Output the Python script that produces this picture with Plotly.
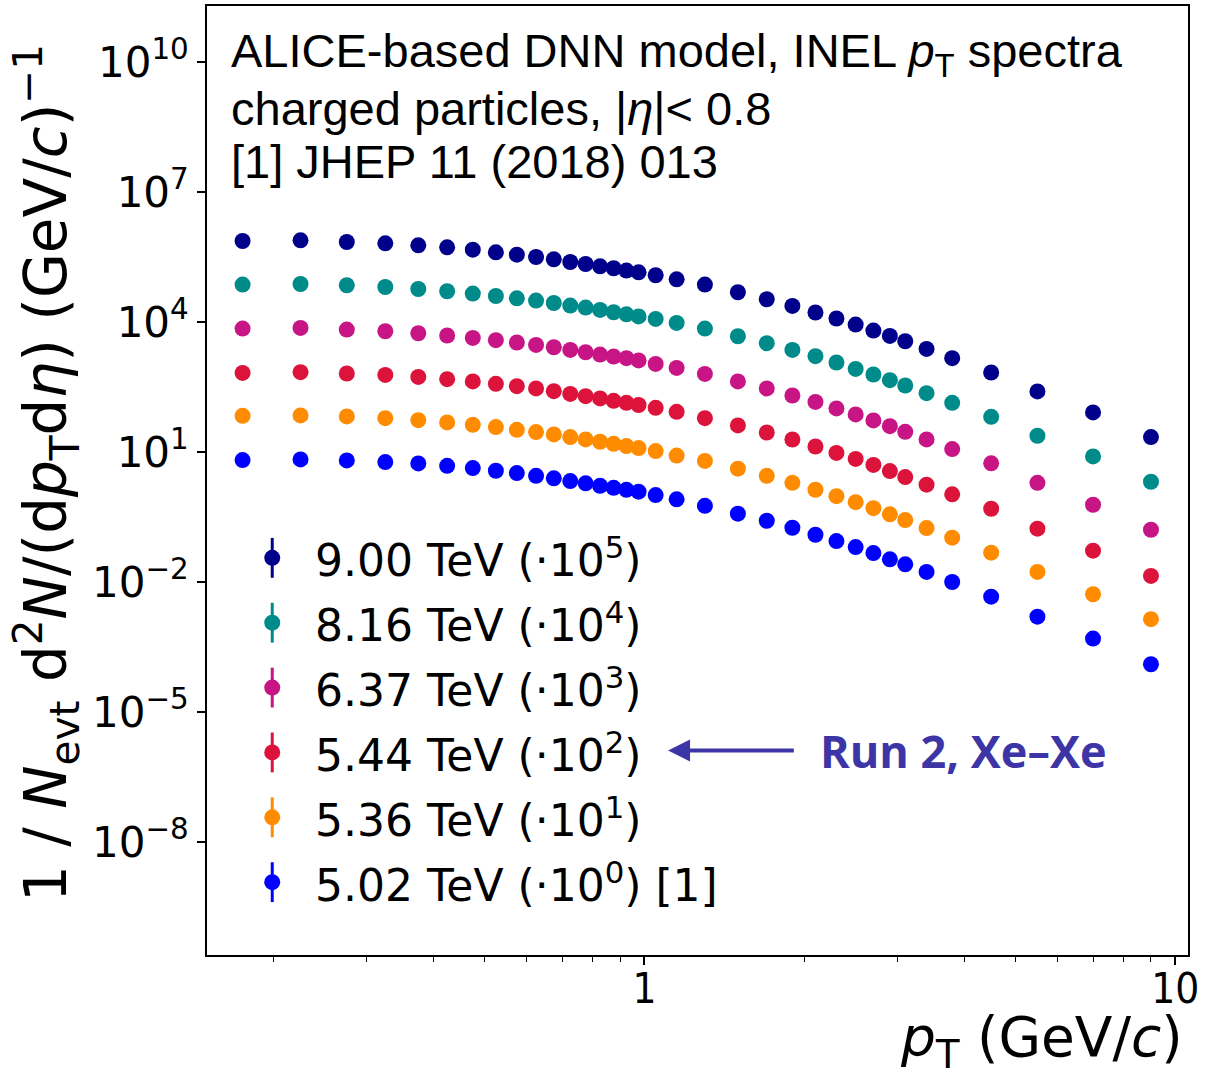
import plotly.graph_objects as go

# ---------------- data ----------------
pt = [0.175, 0.225, 0.275, 0.325, 0.375, 0.425, 0.475, 0.525, 0.575, 0.625,
      0.675, 0.725, 0.775, 0.825, 0.875, 0.925, 0.975, 1.05, 1.15, 1.3,
      1.5, 1.7, 1.9, 2.1, 2.3, 2.5, 2.7, 2.9, 3.1, 3.4,
      3.8, 4.5, 5.5, 7.0, 9.0]

spec_900 = [7.40, 7.67, 7.01, 6.54, 5.89, 5.30, 4.68, 4.06, 3.59, 3.16,
            2.80, 2.43, 2.18, 1.93, 1.74, 1.54, 1.40, 1.20, 0.968, 0.731,
            0.487, 0.335, 0.235, 0.166, 0.1205, 0.0875, 0.0637, 0.0479, 0.0361, 0.0240,
            0.01466, 0.00685, 0.00251, 0.000822, 0.000222]
spec_816 = [7.31, 7.55, 7.05, 6.44, 5.79, 5.13, 4.54, 3.99, 3.53, 3.13,
            2.75, 2.40, 2.16, 1.90, 1.68, 1.51, 1.35, 1.18, 0.953, 0.708,
            0.471, 0.325, 0.228, 0.163, 0.1167, 0.0830, 0.0617, 0.0456, 0.0344, 0.0229,
            0.01368, 0.00650, 0.00238, 0.000796, 0.000207]
spec_637 = [7.08, 7.31, 6.71, 6.14, 5.52, 4.89, 4.30, 3.81, 3.37, 2.97,
            2.62, 2.28, 2.01, 1.78, 1.60, 1.47, 1.30, 1.08, 0.875, 0.637,
            0.426, 0.294, 0.202, 0.144, 0.1016, 0.0740, 0.0537, 0.0397, 0.0294, 0.0196,
            0.01172, 0.00552, 0.00196, 0.000611, 0.000162]
spec_544 = [6.71, 6.97, 6.50, 6.04, 5.43, 4.81, 4.26, 3.75, 3.32, 2.94,
            2.55, 2.20, 1.95, 1.73, 1.52, 1.37, 1.22, 1.05, 0.849, 0.607,
            0.412, 0.283, 0.195, 0.1346, 0.0959, 0.0697, 0.0507, 0.0365, 0.0265, 0.0177,
            0.0106, 0.00494, 0.00171, 0.000532, 0.000139]
spec_536 = [6.86, 7.01, 6.65, 6.07, 5.46, 4.83, 4.26, 3.77, 3.26, 2.89,
            2.56, 2.22, 1.96, 1.73, 1.55, 1.375, 1.236, 1.054, 0.830, 0.627,
            0.415, 0.284, 0.196, 0.1352, 0.0964, 0.0701, 0.0510, 0.0367, 0.0271, 0.0177,
            0.0106, 0.00478, 0.00172, 0.000526, 0.000140]
spec_502 = [6.54, 6.79, 6.44, 5.89, 5.49, 4.83, 4.28, 3.71, 3.28, 2.84,
            2.48, 2.15, 1.90, 1.67, 1.50, 1.35, 1.22, 1.02, 0.813, 0.576,
            0.381, 0.261, 0.180, 0.124, 0.0885, 0.0644, 0.0469, 0.0337, 0.0258, 0.0172,
            0.0101, 0.00463, 0.00160, 0.000499, 0.000128]

spectra = [spec_900, spec_816, spec_637, spec_544, spec_536, spec_502]
scale_factors = [1e5, 1e4, 1e3, 1e2, 1e1, 1e0]
series_labels = ["9.00 TeV (·10<sup>5</sup>)", "8.16 TeV (·10<sup>4</sup>)",
                 "6.37 TeV (·10<sup>3</sup>)", "5.44 TeV (·10<sup>2</sup>)",
                 "5.36 TeV (·10<sup>1</sup>)", "5.02 TeV (·10<sup>0</sup>) [1]"]
colors = ["#00008B", "#008B8B", "#C71585", "#DC143C", "#FF8C00", "#0000FF"]

ytick_vals = [1e-8, 1e-5, 1e-2, 1e1, 1e4, 1e7, 1e10]
ytick_text = ["10<sup>−8</sup>", "10<sup>−5</sup>", "10<sup>−2</sup>", "10<sup>1</sup>",
              "10<sup>4</sup>", "10<sup>7</sup>", "10<sup>10</sup>"]
xminor_vals = [0.2, 0.3, 0.4, 0.5, 0.6, 0.7, 0.8, 0.9, 2, 3, 4, 5, 6, 7, 8, 9]

# ---------------- figure ----------------
fig = go.Figure()

for spec, sf, col, lab in zip(spectra, scale_factors, colors, series_labels):
    fig.add_trace(go.Scatter(
        x=pt, y=[v * sf for v in spec], mode="markers",
        marker=dict(color=col, size=16, line=dict(width=0)),
        name=lab, showlegend=False, xaxis="x", yaxis="y"))

# custom legend (markers with vertical error bars) on overlay axes [0,1]
leg_x = 0.0665
leg_y0 = 0.4185
leg_dy = 0.06835
for i, (col, lab) in enumerate(zip(colors, series_labels)):
    yy = leg_y0 - i * leg_dy
    fig.add_trace(go.Scatter(
        x=[leg_x], y=[yy], mode="markers",
        marker=dict(color=col, size=16, line=dict(width=0)),
        error_y=dict(type="constant", value=0.021, color=col, thickness=3, width=0),
        showlegend=False, xaxis="x2", yaxis="y2", hoverinfo="skip"))
    fig.add_annotation(x=0.108, y=yy, xref="paper", yref="paper",
                       text=lab, showarrow=False, xanchor="left", yanchor="middle",
                       font=dict(family="DejaVu Sans", size=44, color="black"))

axis_font = dict(family="DejaVu Sans", size=42, color="black")

fig.update_layout(
    width=1222, height=1076,
    margin=dict(l=207, r=34, t=4, b=121),
    paper_bgcolor="white", plot_bgcolor="white",
    showlegend=False,
    xaxis=dict(type="log", range=[-0.824, 1.024],
               showline=True, linecolor="black", linewidth=1.6, mirror=True,
               showgrid=False, zeroline=False,
               tickmode="array", tickvals=[1, 10], ticktext=["1", "10"],
               ticks="outside", ticklen=8, tickwidth=1.6, tickcolor="black",
               ticklabelstandoff=-12,
               tickfont=dict(family="Liberation Sans Narrow, DejaVu Sans Condensed", size=42, color="black"),
               minor=dict(tickmode="array", tickvals=xminor_vals, ticks="outside",
                          ticklen=5, tickwidth=1.3, tickcolor="black", showgrid=False)),
    yaxis=dict(type="log", range=[-10.60, 11.29],
               showline=True, linecolor="black", linewidth=1.6, mirror=True,
               showgrid=False, zeroline=False,
               tickmode="array", tickvals=ytick_vals, ticktext=ytick_text,
               ticks="outside", ticklen=8, tickwidth=1.6, tickcolor="black",
               tickfont=axis_font),
    xaxis2=dict(overlaying="x", range=[0, 1], visible=False, fixedrange=True),
    yaxis2=dict(overlaying="y", range=[0, 1], visible=False, fixedrange=True),
)

# header text
header_font = dict(family="Liberation Sans, Arial", size=47, color="black")
for txt, yy in [("ALICE-based DNN model, INEL <i>p</i><sub>T</sub> spectra", 0.9495),
                ("charged particles, |<i>η</i>|< 0.8", 0.8917),
                ("[1] JHEP 11 (2018) 013", 0.836)]:
    fig.add_annotation(x=0.0228, y=yy, xref="paper", yref="paper", text=txt,
                       showarrow=False, xanchor="left", yanchor="middle", font=header_font)

# Run 2 arrow and label
run_col = "#3D35A6"
fig.add_annotation(x=0.470, y=0.2156, xref="x2", yref="y2",
                   ax=0.5997, ay=0.2156, axref="x2", ayref="y2",
                   text="", showarrow=True, arrowhead=2, arrowsize=1.1,
                   arrowwidth=4, arrowcolor=run_col)
fig.add_annotation(x=0.623, y=0.2156, xref="paper", yref="paper",
                   text="<b>Run 2, Xe–Xe</b>", showarrow=False,
                   xanchor="left", yanchor="middle",
                   font=dict(family="Open Sans", size=45, color=run_col))

# axis titles
fig.add_annotation(x=-0.1640, y=0.5079, xref="paper", yref="paper",
                   text="1 / <i>N</i><sub>evt</sub> d<sup>2</sup><i>N</i>/(d<i>p</i><sub>T</sub>d<i>η</i>) (GeV/<i>c</i>)<sup>−1</sup>",
                   textangle=-90, showarrow=False, xanchor="center", yanchor="middle",
                   font=dict(family="DejaVu Sans", size=58, color="black"))
fig.add_annotation(x=0.997, y=-0.091, xref="paper", yref="paper",
                   text="<i>p</i><sub>T</sub> (GeV/<i>c</i>)",
                   showarrow=False, xanchor="right", yanchor="middle",
                   font=dict(family="DejaVu Sans", size=55, color="black"))

fig.write_html("out.html")
